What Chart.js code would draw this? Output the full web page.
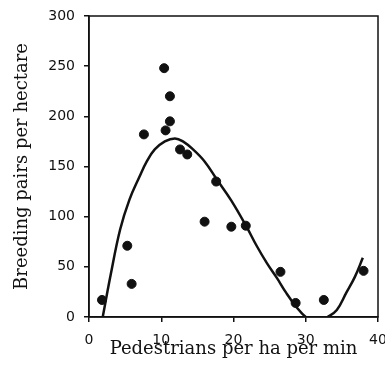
<!DOCTYPE html>
<html>
<head>
<meta charset="utf-8">
<script src="https://cdn.jsdelivr.net/npm/chart.js@4"></script>
<style>
  html, body { margin: 0; padding: 0; background: #fff; }
  #wrap { width: 385px; height: 375px; }
</style>
</head>
<body>
<div id="wrap"><canvas id="chart" width="385" height="375"></canvas></div>
<script>
'use strict';

// ── Data ─────────────────────────────────────────────────────────
const pedestrians = [1.8, 5.3, 5.9, 7.6, 10.4, 10.6, 11.2, 11.2, 12.6, 13.6, 16.0, 17.6, 19.7, 21.7, 26.5, 28.6, 32.5, 38.0];
const pairs       = [17,  71,  33,  182, 248,  186,  220,  195,  167,  162,  95,   135,  90,   91,   45,   14,   17,   46];

// fitted curve
const curveX = [1.9, 3.0, 4.3, 5.6, 7.0, 8.0, 9.1, 10.5, 11.9, 13.0, 14.4, 16.0, 17.7, 19.7, 21.8, 23.2, 24.6, 26.0, 27.3, 28.7, 30.0, 31.5, 33.0, 34.3, 35.6, 36.8, 37.9];
const curveY = [0,   42,  87,  117, 140, 155, 167, 175,  178,  175,  167,  155,  137,  116,  90,   71,   54,   39,   24,   10,   0,    -6,   0,    7,    24,   40,   59];

const xTicks = [0, 10, 20, 30, 40];
const yTicks = [0, 50, 100, 150, 200, 250, 300];

const INK = '#111';
const tickFont  = { family: "'DejaVu Sans', sans-serif", size: 14 };
const titleFont = { family: "'DejaVu Serif', serif", size: 18 };

// ── Frame around the plot area ───────────────────────────────────
const frame = {
  id: 'frame',
  afterDatasetsDraw(chart) {
    const { ctx, chartArea: a } = chart;
    ctx.save();
    ctx.strokeStyle = INK;
    ctx.lineWidth = 1.5;
    ctx.strokeRect(a.left, a.top, a.right - a.left, a.bottom - a.top);
    ctx.restore();
  }
};

new Chart(document.getElementById('chart'), {
  type: 'scatter',
  data: {
    datasets: [
      {
        data: pedestrians.map((x, i) => ({ x, y: pairs[i] })),
        backgroundColor: INK,
        borderColor: INK,
        pointRadius: 4.5,
        pointHoverRadius: 4.5
      },
      {
        data: curveX.map((x, i) => ({ x, y: curveY[i] })),
        showLine: true,
        pointRadius: 0,
        borderColor: INK,
        borderWidth: 2.5,
        tension: 0.4,
        fill: false
      }
    ]
  },
  options: {
    responsive: false,
    animation: false,
    layout: { padding: { top: 16, right: 7, left: 0, bottom: 0 } },
    plugins: { legend: { display: false }, tooltip: { enabled: false } },
    scales: {
      x: {
        type: 'linear', min: 0, max: 40,
        afterBuildTicks: s => { s.ticks = xTicks.map(v => ({ value: v })); },
        afterFit: s => { s.height = 58; s.paddingRight = 0; s.paddingLeft = 0; },
        border: { display: true, color: INK, width: 1.5 },
        grid: { drawOnChartArea: false, drawTicks: true, tickLength: 5, color: INK, lineWidth: 1.5 },
        ticks: { color: INK, font: tickFont, padding: 10, maxRotation: 0 },
        title: { display: true, text: 'Pedestrians per ha per min', color: INK, font: titleFont, padding: { top: 0, bottom: 15 } }
      },
      y: {
        type: 'linear', min: 0, max: 300,
        afterBuildTicks: s => { s.ticks = yTicks.map(v => ({ value: v })); },
        afterFit: s => { s.width = 89; s.paddingTop = 0; s.paddingBottom = 0; },
        border: { display: true, color: INK, width: 1.5 },
        grid: { drawOnChartArea: false, drawTicks: true, tickLength: 5, color: INK, lineWidth: 1.5 },
        ticks: { color: INK, font: tickFont, padding: 9 },
        title: { display: true, text: 'Breeding pairs per hectare', color: INK, font: titleFont, padding: { top: 12, bottom: 0 } }
      }
    }
  },
  plugins: [frame]
});
</script>
</body>
</html>
